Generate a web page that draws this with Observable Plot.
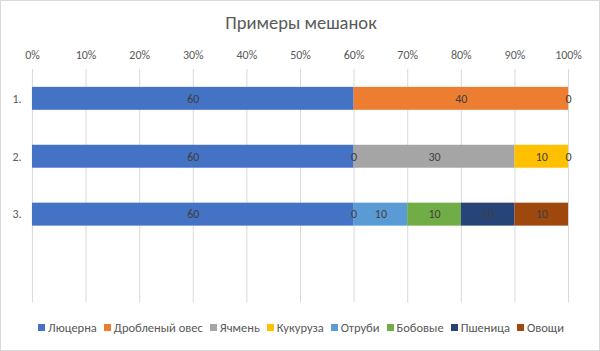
<!DOCTYPE html>
<html><head><meta charset="utf-8">
<script src="https://cdn.jsdelivr.net/npm/d3@7"></script>
<script src="https://cdn.jsdelivr.net/npm/@observablehq/plot@0.6"></script>
<style>
html,body{margin:0;padding:0;background:#fff;}
#wrap{position:relative;width:600px;height:351px;box-sizing:border-box;border:1px solid #d9d9d9;overflow:hidden;font-family:Calibri,Carlito,"Open Sans",sans-serif;}
#title{position:absolute;left:0;top:10px;width:600px;text-align:center;font-size:18.5px;color:#595959;}
#legend{position:absolute;left:0;top:319px;width:600px;display:flex;justify-content:center;gap:7px;font-size:12.5px;color:#595959;}
#legend span.i{display:flex;align-items:center;gap:3px;}
#legend span.sw{width:7px;height:7px;display:inline-block;}
#chart{position:absolute;left:-1px;top:-1px;}
</style></head>
<body><div id="wrap"><div id="title">Примеры мешанок</div><div id="chart"></div><div id="legend"></div></div>
<script>
const rows = ["1.", "2.", "3."];
const series = ["Люцерна", "Дробленый овес", "Ячмень", "Кукуруза", "Отруби", "Бобовые", "Пшеница", "Овощи"];
const colors = ["#4472C4", "#ED7D31", "#A5A5A5", "#FFC000", "#5B9BD5", "#70AD47", "#264478", "#9E480E"];
// values per row, in series order (null = no value)
const row1 = [60, 40, 0, null, null, null, null, null];
const row2 = [60, 0, 30, 10, 0, null, null, null];
const row3 = [60, 0, null, null, 10, 10, 10, 10];
const tickLabels = ["0%","10%","20%","30%","40%","50%","60%","70%","80%","90%","100%"];

const table = [];
[row1, row2, row3].forEach((vals, i) => {
  vals.forEach((v, j) => { if (v !== null) table.push({row: rows[i], series: series[j], value: v}); });
});

const stackOpts = {x: "value", y: "row", z: "series", offset: "normalize", order: series};

const chart = Plot.plot({
  width: 600, height: 351,
  marginTop: 69, marginBottom: 48, marginLeft: 32, marginRight: 31,
  style: {fontFamily: 'Calibri, Carlito, "Open Sans", sans-serif', fontSize: "12px", color: "#595959", background: "transparent"},
  x: {domain: [0, 1], ticks: d3.range(0, 1.0001, 0.1), tickFormat: (d, i) => tickLabels[i], axis: "top", tickSize: 0, tickPadding: 10, label: null},
  y: {domain: [...rows, ""], paddingInner: 0.6, paddingOuter: 0.3, tickSize: 0, tickPadding: 11, label: null},
  color: {domain: series, range: colors},
  marks: [
    Plot.gridX(d3.range(0, 1.0001, 0.1), {stroke: "#d9d9d9", strokeOpacity: 1}),
    Plot.barX(table, Plot.stackX({...stackOpts, fill: "series", inset: 0})),
    Plot.text(table, Plot.stackX({...stackOpts, text: d => String(d.value), fill: "#404040", fontSize: 12}))
  ]
});
document.getElementById("chart").appendChild(chart);

const leg = document.getElementById("legend");
series.forEach((s, i) => {
  const it = document.createElement("span"); it.className = "i";
  const sw = document.createElement("span"); sw.className = "sw"; sw.style.background = colors[i];
  const t = document.createElement("span"); t.textContent = s;
  it.appendChild(sw); it.appendChild(t); leg.appendChild(it);
});
</script></body></html>
